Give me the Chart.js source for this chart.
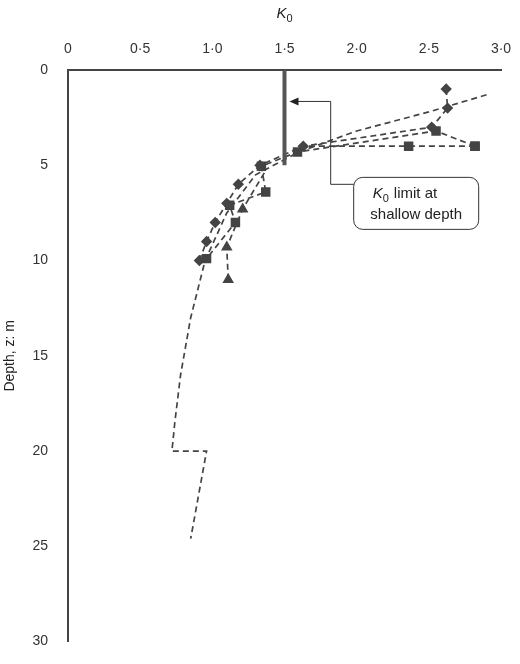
<!DOCTYPE html>
<html><head><meta charset="utf-8">
<script src="https://cdn.jsdelivr.net/npm/chart.js@4"></script>
<style>html,body{margin:0;background:#fff}#w{width:520px;height:664px}</style>
</head><body><div id="w"><canvas id="c" width="520" height="664"></canvas></div>
<script>
const xTicks=[0,0.5,1.0,1.5,2.0,2.5,3.0];
const yTicks=[0,5,10,15,20,25,30];
const diamondK=[2.62,2.63,2.52,1.63,1.33,1.18,1.10,1.02,0.96,0.91];
const diamondZ=[1.0,2.0,3.0,4.0,5.0,6.0,7.0,8.0,9.0,10.0];
const squareK=[2.82,2.55,1.59,1.34,1.37,1.12,1.16,0.96];
const squareZ=[4.0,3.2,4.3,5.05,6.4,7.1,8.0,9.9];
const square2K=[1.6,2.36,2.82];
const square2Z=[4.0,4.0,4.0];
const triK=[1.36,1.21,1.10,1.11];
const triZ=[5.4,7.3,9.3,11.0];
const envK=[2.9,2.5,2.0,1.6,1.3,1.1,0.95,0.85,0.78,0.74,0.72,0.96,0.85];
const envZ=[1.3,2.2,3.2,4.3,5.5,7.5,10,13,16,18.5,20,20,24.6];
const limitK=[1.5,1.5];
const limitZ=[0,5];
const pts=(k,z)=>k.map((v,i)=>({x:v,y:z[i]}));
const col='#444';
const ds=(k,z,style,r,extra)=>Object.assign({data:pts(k,z),borderColor:col,backgroundColor:col,borderWidth:1.7,borderDash:[6,4],pointStyle:style,pointRadius:r,showLine:true,tension:0},extra||{});
const fmt=v=>v===0?'0':v.toFixed(1).replace('.','·');
const annot={id:'annot',afterDraw(ch){
 const c=ch.ctx,x=ch.scales.x,y=ch.scales.y;
 c.save();
 c.fillStyle='#222';c.font='italic 15px Arial';c.textAlign='left';c.textBaseline='alphabetic';
 const tx=x.getPixelForValue(1.5)-8;
 c.fillText('K',tx,18);c.font='11px Arial';c.fillText('0',tx+10,22);
 const ax=x.getPixelForValue(1.5)+5, ay=y.getPixelForValue(1.65);
 const bx=x.getPixelForValue(1.82), byv=y.getPixelForValue(6.0);
 const boxL=bx+23;
 c.strokeStyle='#333';c.lineWidth=1;c.beginPath();
 c.moveTo(boxL,byv);c.lineTo(bx,byv);c.lineTo(bx,ay);c.lineTo(ax+8,ay);c.stroke();
 c.fillStyle='#222';c.beginPath();c.moveTo(ax,ay);c.lineTo(ax+9,ay-4);c.lineTo(ax+9,ay+4);c.closePath();c.fill();
 const bw=125,bh=52,bt=y.getPixelForValue(7.0)-bh/2;
 c.fillStyle='#fff';c.beginPath();c.roundRect(boxL,bt,bw,bh,9);c.fill();c.stroke();
 c.fillStyle='#222';c.textAlign='left';
 c.font='italic 15px Arial';c.fillText('K',boxL+19,bt+21);
 c.font='11px Arial';c.fillText('0',boxL+29,bt+25);
 c.font='15px Arial';c.fillText(' limit at',boxL+36,bt+21);
 c.textAlign='center';c.fillText('shallow depth',boxL+bw/2,bt+42);
 c.restore();
}};
new Chart(document.getElementById('c'),{type:'scatter',
 data:{datasets:[
  ds(limitK,limitZ,'circle',0,{borderDash:[],borderWidth:4,borderColor:'#555'}),
  ds(envK,envZ,'circle',0),
  ds(diamondK,diamondZ,'rectRot',4.5),
  ds(squareK,squareZ,'rect',5.5),
  ds(square2K,square2Z,'rect',[0,5.5,5.5]),
  ds(triK,triZ,'triangle',[0,5,5,5]),
 ]},
 options:{responsive:false,animation:false,
  layout:{padding:{right:19,bottom:12}},
  plugins:{legend:{display:false},tooltip:{enabled:false}},
  scales:{
   x:{type:'linear',position:'top',min:0,max:3,
     afterBuildTicks:s=>{s.ticks=xTicks.map(v=>({value:v}))},
     afterFit:s=>{s.height=70},
     grid:{display:false,drawTicks:true,tickLength:6,tickColor:'#444'},
     border:{color:'#444',width:2},
     ticks:{callback:fmt,color:'#333',font:{family:'Arial',size:14},padding:6}},
   y:{type:'linear',reverse:true,min:0,max:30,
     afterBuildTicks:s=>{s.ticks=yTicks.map(v=>({value:v}))},
     afterFit:s=>{s.width=68},
     grid:{display:false,drawTicks:true,tickLength:6,tickColor:'#444'},
     border:{color:'#444',width:2},
     title:{display:true,text:'Depth, z: m',color:'#222',font:{family:'Arial',size:14},padding:2},
     ticks:{color:'#333',font:{family:'Arial',size:14},padding:14}}
  }},
 plugins:[annot]});
</script></body></html>
